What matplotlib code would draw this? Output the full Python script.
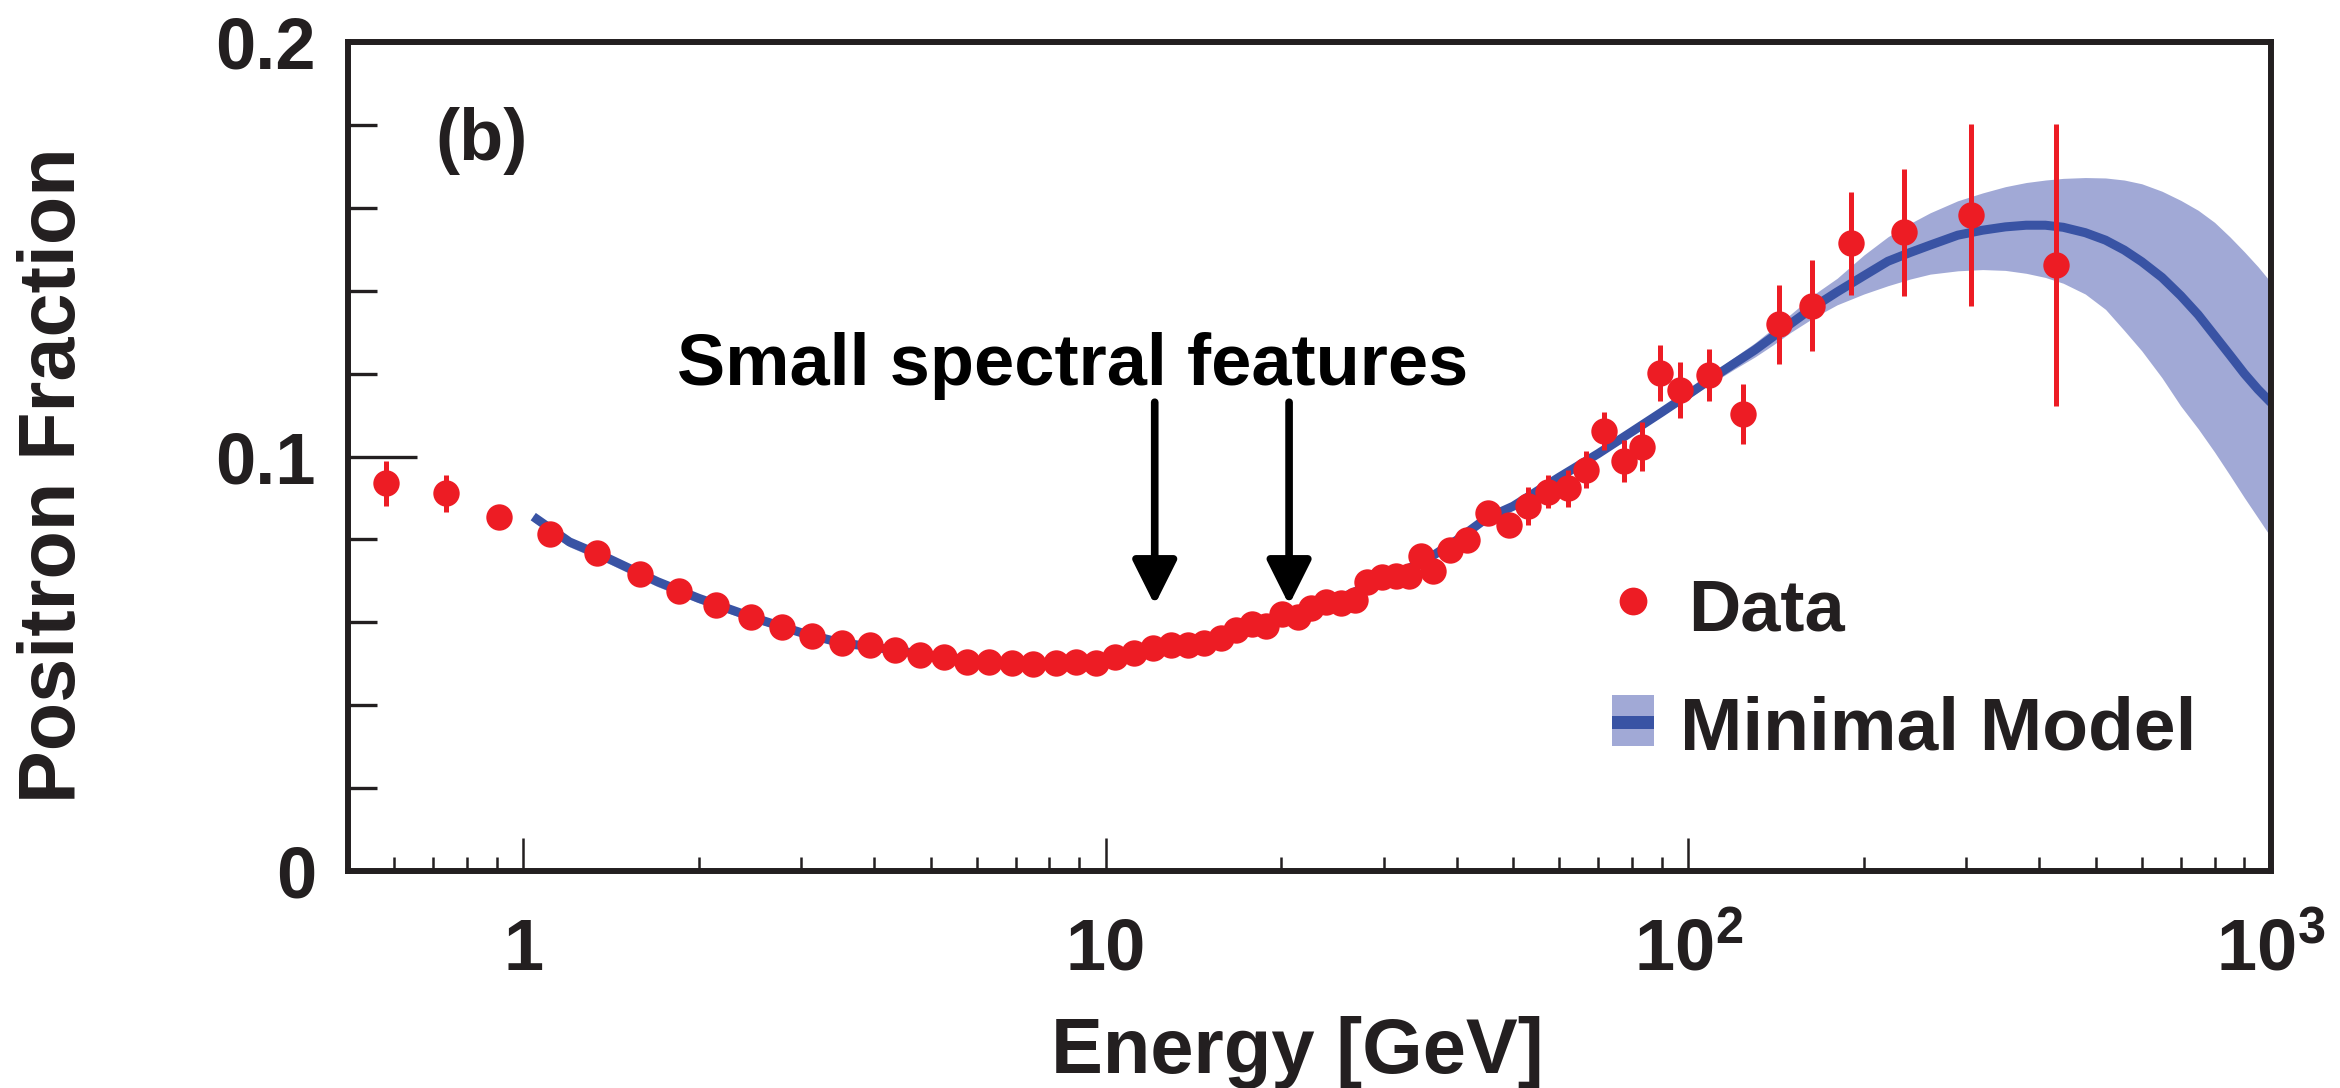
import matplotlib
matplotlib.use("Agg")
import matplotlib.pyplot as plt
from matplotlib.patches import Rectangle
from matplotlib.ticker import FixedLocator, NullFormatter

plt.rcParams['font.family'] = 'Liberation Sans'
plt.rcParams['font.weight'] = 'bold'
plt.rcParams['mathtext.fontset'] = 'custom'
plt.rcParams['mathtext.rm'] = 'Liberation Sans:bold'
plt.rcParams['mathtext.bf'] = 'Liberation Sans:bold'
plt.rcParams['mathtext.it'] = 'Liberation Sans:bold'

# measured positron fraction
energy = [0.58, 0.736, 0.909, 1.111, 1.336, 1.583, 1.847, 2.141, 2.455, 2.778,
          3.131, 3.52, 3.93, 4.34, 4.80, 5.28, 5.77, 6.31, 6.90, 7.50,
          8.21, 8.88, 9.61, 10.36, 11.16, 12.03, 12.93, 13.81, 14.75, 15.75,
          16.71, 17.85, 18.81, 20.10, 21.33, 22.47, 23.85, 25.31, 26.74, 28.11,
          29.83, 31.44, 33.13, 34.79, 36.48, 38.96, 41.73, 45.34, 49.18, 53.09,
          57.44, 62.09, 66.83, 71.56, 77.45, 83.28, 89.54, 96.9, 108.3, 124.1,
          142.8, 163.0, 190.4, 234.0, 305.7, 427.8]
fraction = [0.0935, 0.0911, 0.0853, 0.0812, 0.0768, 0.0717, 0.0676, 0.0643, 0.0614, 0.0589,
            0.0567, 0.0549, 0.0545, 0.0533, 0.0521, 0.0517, 0.0505, 0.0505, 0.0503, 0.0499,
            0.0501, 0.0505, 0.0503, 0.0516, 0.0526, 0.0538, 0.0546, 0.0546, 0.0550, 0.0562,
            0.0581, 0.0595, 0.0591, 0.0620, 0.0612, 0.0634, 0.0650, 0.0646, 0.0654, 0.0698,
            0.0710, 0.0712, 0.0712, 0.0760, 0.0725, 0.0774, 0.0799, 0.0864, 0.0834, 0.0880,
            0.0915, 0.0923, 0.0968, 0.1061, 0.0989, 0.1024, 0.1201, 0.1160, 0.1197, 0.1102,
            0.1319, 0.1364, 0.1514, 0.1541, 0.1582, 0.1462]
error = [0.0055, 0.0045, 0.0025, 0.0018, 0.0015, 0.0012, 0.0010, 0.0009, 0.0008, 0.0008,
         0.0008, 0.0008, 0.0008, 0.0008, 0.0008, 0.0008, 0.0008, 0.0008, 0.0008, 0.0008,
         0.0008, 0.0008, 0.0008, 0.0008, 0.0009, 0.0009, 0.0009, 0.0010, 0.0010, 0.0010,
         0.0011, 0.0011, 0.0012, 0.0012, 0.0013, 0.0013, 0.0014, 0.0015, 0.0016, 0.0017,
         0.0018, 0.0019, 0.0020, 0.0021, 0.0022, 0.0023, 0.0024, 0.0025, 0.0026, 0.0046,
         0.0040, 0.0044, 0.0045, 0.0046, 0.0050, 0.0060, 0.0068, 0.0068, 0.0062, 0.0072,
         0.0095, 0.0110, 0.0125, 0.0153, 0.0220, 0.0340]

# minimal model fit and its uncertainty band
model_energy = [1.04, 1.2, 1.4, 1.7, 2.0, 2.5, 3.0, 3.5, 4.0, 5.0,
                6.0, 7.0, 8.0, 9.0, 10, 12, 14, 16, 18, 20,
                25, 30, 35, 40, 45, 50, 60, 70, 80, 90,
                100, 110, 120, 130, 140, 150, 165, 180, 200, 220,
                240, 260, 290, 320, 350, 380, 410, 440, 480, 520,
                560, 600, 650, 700, 750, 800, 850, 900, 950, 1000]
model_center = [0.0855, 0.0794, 0.0754, 0.0698, 0.0658, 0.0610, 0.0575, 0.0551, 0.0540, 0.0520,
                0.0508, 0.0502, 0.0500, 0.0502, 0.0508, 0.0530, 0.0550, 0.0570, 0.0592, 0.0613,
                0.0655, 0.0705, 0.0745, 0.0798, 0.0851, 0.0880, 0.0950, 0.1007, 0.1060, 0.1107,
                0.1150, 0.1190, 0.1225, 0.1257, 0.1290, 0.1321, 0.1363, 0.1397, 0.1436, 0.1471,
                0.1492, 0.1510, 0.1534, 0.1546, 0.1554, 0.1558, 0.1558, 0.1553, 0.1540, 0.1522,
                0.1498, 0.1470, 0.1432, 0.1388, 0.1342, 0.1292, 0.1245, 0.1200, 0.1162, 0.1130]
band_low = [0.0843, 0.0782, 0.0742, 0.0686, 0.0647, 0.0600, 0.0566, 0.0543, 0.0532, 0.0513,
            0.0502, 0.0496, 0.0494, 0.0496, 0.0502, 0.0524, 0.0544, 0.0564, 0.0586, 0.0607,
            0.0649, 0.0699, 0.0739, 0.0792, 0.0845, 0.0874, 0.0943, 0.1000, 0.1052, 0.1098,
            0.1140, 0.1178, 0.1211, 0.1240, 0.1270, 0.1300, 0.1337, 0.1366, 0.1392, 0.1412,
            0.1428, 0.1440, 0.1448, 0.1451, 0.1449, 0.1442, 0.1432, 0.1418, 0.1392, 0.1355,
            0.1304, 0.1255, 0.1190, 0.1122, 0.1067, 0.1011, 0.0955, 0.0901, 0.0852, 0.0805]
band_high = [0.0859, 0.0798, 0.0758, 0.0702, 0.0662, 0.0614, 0.0579, 0.0555, 0.0544, 0.0524,
             0.0512, 0.0506, 0.0504, 0.0506, 0.0512, 0.0534, 0.0554, 0.0574, 0.0596, 0.0617,
             0.0659, 0.0709, 0.0749, 0.0802, 0.0856, 0.0885, 0.0956, 0.1014, 0.1068, 0.1116,
             0.1160, 0.1202, 0.1240, 0.1274, 0.1310, 0.1344, 0.1393, 0.1430, 0.1486, 0.1530,
             0.1562, 0.1588, 0.1617, 0.1636, 0.1651, 0.1661, 0.1667, 0.1671, 0.1673, 0.1672,
             0.1667, 0.1658, 0.1640, 0.1618, 0.1594, 0.1565, 0.1530, 0.1494, 0.1458, 0.1420]

arrow_energy = [12.13, 20.63]

RED = '#ED1C24'
LINE = '#3953A4'
BAND = '#A1A9D6'
INK = '#231F20'

fig = plt.figure(figsize=(23.4, 10.88), dpi=100)
ax = fig.add_axes([0.1487, 0.1994, 0.8218, 0.7620])

ax.fill_between(model_energy, band_low, band_high, color=BAND, lw=0, zorder=1)
ax.plot(model_energy, model_center, color=LINE, lw=6.5, solid_capstyle='butt',
        solid_joinstyle='round', zorder=2)
ax.errorbar(energy, fraction, yerr=error, fmt='o', color=RED, ms=19, mew=0,
            elinewidth=3.6, capsize=5, capthick=3.6, zorder=3)

ax.set_xscale('log')
ax.set_xlim(0.5, 1000)
ax.set_ylim(0, 0.2)

ax.set_xticks([1, 10, 100, 1000])
ax.set_xticklabels(['1', '10', r'$\mathbf{10^{2}}$', r'$\mathbf{10^{3}}$'])
ax.xaxis.set_minor_locator(FixedLocator([0.6, 0.7, 0.8, 0.9, 2, 3, 4, 5, 6, 7, 8, 9,
                                         20, 30, 40, 50, 60, 70, 80, 90,
                                         200, 300, 400, 500, 600, 700, 800, 900]))
ax.xaxis.set_minor_formatter(NullFormatter())
ax.set_yticks([0, 0.1, 0.2])
ax.set_yticklabels(['0', '0.1', '0.2'])
ax.yaxis.set_minor_locator(FixedLocator([0.02, 0.04, 0.06, 0.08, 0.12, 0.14, 0.16, 0.18]))

ax.tick_params(axis='x', which='major', direction='in', length=24, width=1.8,
               pad=71, labelsize=52, colors=INK)
ax.tick_params(axis='x', which='minor', direction='in', length=10, width=1.8, colors=INK)
ax.tick_params(axis='y', which='major', direction='in', length=50, width=2.4,
               pad=23, labelsize=52, colors=INK)
ax.tick_params(axis='y', which='minor', direction='in', length=21, width=2.4, colors=INK)
for lab in ax.get_xticklabels():
    lab.set_verticalalignment('baseline')

for s in ax.spines.values():
    s.set_linewidth(4.3)
    s.set_color(INK)

# arrows pointing at the features
for e in arrow_energy:
    ax.annotate('', xy=(e, 0.0642), xytext=(e, 0.1131),
                arrowprops=dict(arrowstyle='-|>,head_length=27,head_width=13.5',
                                mutation_scale=1, lw=5.5, color='black',
                                shrinkA=0, shrinkB=0))
ax.text(8.78, 0.1172, 'Small spectral features', fontsize=52, color='black',
        ha='center', va='baseline')
ax.text(0.0452, 0.8577, '(b)', transform=ax.transAxes, fontsize=52, color=INK,
        va='baseline')

# legend
ax.plot([0.6682], [0.3257], 'o', transform=ax.transAxes, ms=20, color=RED, mew=0)
ax.text(0.6968, 0.2907, 'Data', transform=ax.transAxes, fontsize=52, color=INK,
        va='baseline')
ax.add_patch(Rectangle((0.6573, 0.1508), 0.0219, 0.0615, transform=ax.transAxes,
                       color=BAND, lw=0))
ax.add_patch(Rectangle((0.6573, 0.1713), 0.0219, 0.0157, transform=ax.transAxes,
                       color=LINE, lw=0))
ax.text(0.6927, 0.1472, 'Minimal Model', transform=ax.transAxes, fontsize=54,
        color=INK, va='baseline')

fig.text(0.0235, 0.5634, 'Positron Fraction', rotation=90, fontsize=57, color=INK,
         ha='center', va='center')
fig.text(1297 / 2340, 1 - 1073 / 1088, 'Energy [GeV]', fontsize=56, color=INK,
         ha='center', va='baseline')

fig.savefig('out.png', dpi=100)
